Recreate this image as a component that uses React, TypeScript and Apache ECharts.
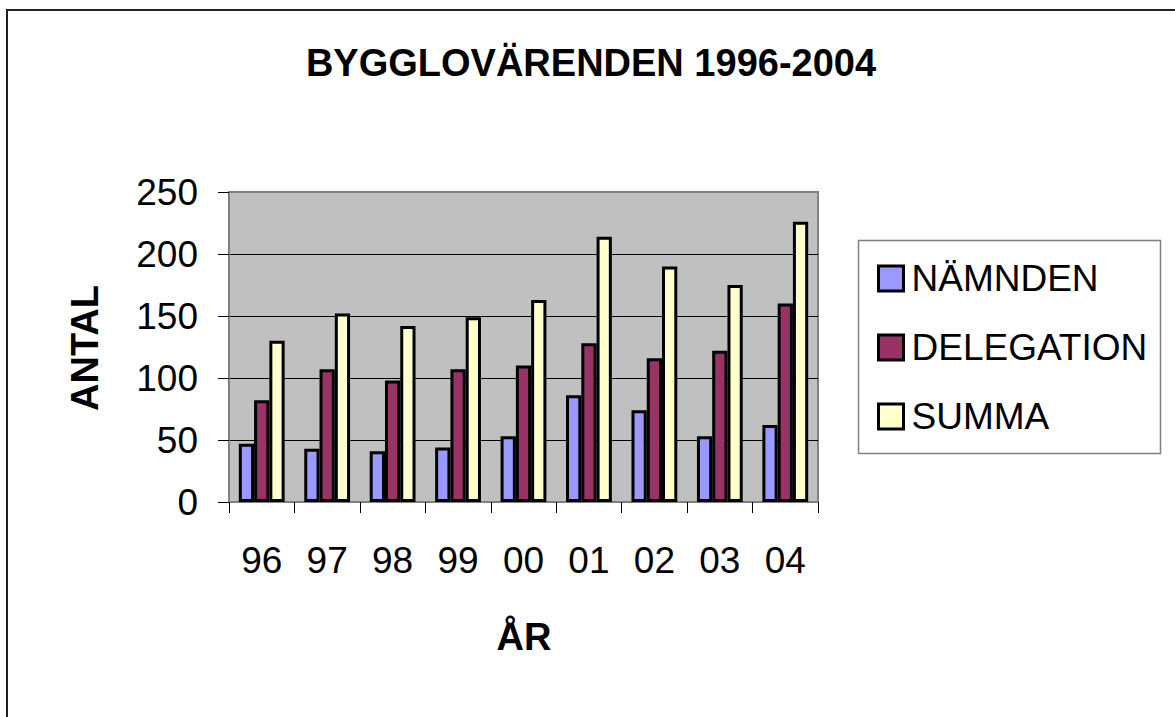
import React, { useEffect, useRef } from "react";
import * as echarts from "echarts";

const categories = ["96", "97", "98", "99", "00", "01", "02", "03", "04"];
const seriesNames = ["NÄMNDEN", "DELEGATION", "SUMMA"];
const namnden = [47, 43, 41, 44, 53, 86, 74, 53, 62];
const delegation = [82, 107, 98, 107, 110, 128, 116, 122, 160];
const summa = [130, 152, 142, 149, 163, 214, 190, 175, 226];
const yTicks = [0, 50, 100, 150, 200, 250];
const colors = ["#9999FF", "#993366", "#FFFFCC"];

const FONT = 'Arial, "Liberation Sans", sans-serif';

export default function App() {
  const ref = useRef<HTMLDivElement>(null);
  useEffect(() => {
    if (!ref.current) return;
    const chart = echarts.init(ref.current, null, { renderer: "svg" });
    const values = [namnden, delegation, summa];
    const yMax = yTicks[yTicks.length - 1];
    const yStep = yTicks[1] - yTicks[0];
    chart.setOption({
      animation: false,
      backgroundColor: "#ffffff",
      textStyle: { fontFamily: FONT },
      grid: {
        left: 229,
        top: 192,
        width: 589,
        height: 310,
        show: true,
        backgroundColor: "#C0C0C0",
        borderColor: "#808080",
        borderWidth: 2,
        containLabel: false,
      },
      legend: {
        orient: "vertical",
        left: 872,
        top: 255,
        itemWidth: 25,
        itemHeight: 25,
        itemGap: 32,
        icon: "rect",
        data: seriesNames,
        itemStyle: { borderColor: "#000", borderWidth: 3 },
        textStyle: {
          fontSize: 37,
          color: "#000",
          fontFamily: FONT,
          padding: [0, 0, 0, 3],
        },
      },
      xAxis: {
        type: "category",
        data: categories,
        boundaryGap: true,
        axisLine: { show: true, lineStyle: { color: "#808080", width: 2 } },
        axisTick: { show: true, length: 11, lineStyle: { color: "#000", width: 1 } },
        axisLabel: { fontSize: 37, color: "#000", margin: 40, fontFamily: FONT },
      },
      yAxis: {
        type: "value",
        min: 0,
        max: yMax,
        interval: yStep,
        axisLine: { show: true, lineStyle: { color: "#808080", width: 2 } },
        axisTick: { show: true, length: 11, lineStyle: { color: "#000", width: 1 } },
        axisLabel: { fontSize: 37, color: "#000", margin: 31, fontFamily: FONT },
        splitLine: {
          show: true,
          lineStyle: {
            color: yTicks.map((t) => (t === yMax ? "#808080" : "#000")),
            width: 1,
          },
        },
      },
      series: seriesNames.map((name, i) => ({
        name,
        type: "bar",
        data: values[i],
        barGap: "0%",
        barCategoryGap: "30%",
        itemStyle: { color: colors[i], borderColor: "#000", borderWidth: 3 },
      })),
      graphic: [
        {
          type: "rect",
          shape: { x: 7, y: 10, width: 1300, height: 800 },
          style: { fill: "none", stroke: "#202020", lineWidth: 2 },
          silent: true,
          z: -10,
        },
        {
          type: "rect",
          shape: { x: 858.5, y: 240.5, width: 302, height: 213 },
          style: { fill: "#fff", stroke: "#808080", lineWidth: 1.5 },
          silent: true,
          z: -5,
        },
        {
          type: "text",
          x: 591,
          y: 63,
          style: {
            text: "BYGGLOVÄRENDEN 1996-2004",
            fontSize: 38,
            fontWeight: "bold",
            fontFamily: FONT,
            fill: "#000",
            textAlign: "center",
            textVerticalAlign: "middle",
          },
        },
        {
          type: "text",
          x: 85,
          y: 348,
          rotation: Math.PI / 2,
          style: {
            text: "ANTAL",
            fontSize: 38,
            fontWeight: "bold",
            fontFamily: FONT,
            fill: "#000",
            textAlign: "center",
            textVerticalAlign: "middle",
          },
        },
        {
          type: "text",
          x: 524,
          y: 637,
          style: {
            text: "ÅR",
            fontSize: 38,
            fontWeight: "bold",
            fontFamily: FONT,
            fill: "#000",
            textAlign: "center",
            textVerticalAlign: "middle",
          },
        },
      ],
    });
    return () => chart.dispose();
  }, []);
  return (
    <div
      ref={ref}
      style={{ position: "fixed", left: 0, top: 0, width: 1175, height: 717 }}
    />
  );
}
